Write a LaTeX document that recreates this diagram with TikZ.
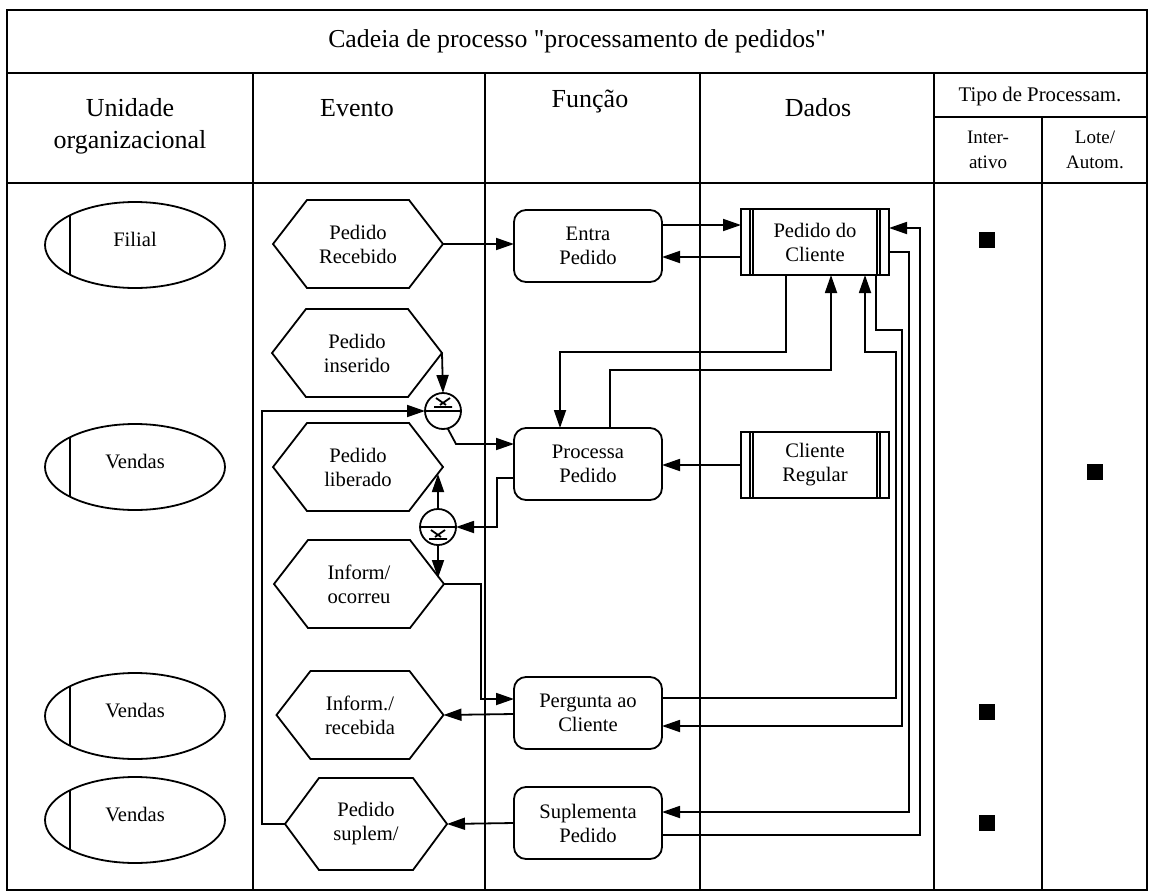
\documentclass[tikz,border=0pt]{standalone}
\usepackage{fontspec}
\setmainfont{Liberation Serif}
\newfontfamily\qfont{Liberation Serif}
\usetikzlibrary{arrows.meta,shapes.geometric}

\tikzset{
  txt/.style={font=\fontsize{20.6}{24}\selectfont, align=center},
  head/.style={font=\fontsize{26}{32}\selectfont, align=center},
  small/.style={font=\fontsize{19}{25}\selectfont, align=center},
  event/.style={txt, minimum width=170pt, minimum height=88pt, inner sep=0pt, outer sep=0pt},
  func/.style={txt, draw, rounded corners=12pt, minimum width=148pt, minimum height=72pt, inner sep=0pt, outer sep=0pt},
  data/.style={txt, draw, minimum width=148pt, minimum height=66pt, inner sep=0pt, outer sep=0pt},
  org/.style={txt, draw, ellipse, minimum width=180pt, minimum height=86pt, inner sep=0pt, outer sep=0pt, text depth=12pt},
  xor/.style={draw, circle, minimum size=36pt, inner sep=0pt, outer sep=0pt},
  sq/.style={fill, minimum width=16pt, minimum height=16pt, inner sep=0pt},
  arr/.style={-{Triangle[length=18pt,width=12pt]}}
}

\begin{document}
\begin{tikzpicture}
  [x=1pt,y=-1pt,line width=1.8pt]
\useasboundingbox (0,0) rectangle (1149,894);
% frame
\draw (7,10) rectangle (1147,890);
\draw (7,73) -- (1147,73);
\draw (934,117) -- (1147,117);
\draw (7,183) -- (1147,183);
\foreach \x in {253,485,700,934}
  \draw (\x,73) -- (\x,890);
\draw (1042,117) -- (1042,890);

% headers
\node (title)[head, font=\fontsize{25.8}{30}\selectfont] at (577,41) {Cadeia de processo {\qfont"}processamento de pedidos{\qfont"}};
\node (hunit)[head] at (130,126) {Unidade\\organizacional};
\node (hevt)[head] at (357,108) {Evento};
\node (hfun)[head] at (590,102) {Função};
\node (hdat)[head] at (818,108) {Dados};
\node (htipo)[txt, font=\fontsize{20.8}{24}\selectfont] at (1040,96) {Tipo de Processam.};
\node (hint)[small] at (988,150) {Inter-\\ativo};
\node (hlote)[small] at (1095,150) {Lote/\\Autom.};

% organisational units
\node (o1)[org] at (135,245) {Filial};
\node (o2)[org] at (135,467) {Vendas};
\node (o3)[org] at (135,716) {Vendas};
\node (o4)[org] at (135,820) {Vendas};
\foreach \n in {o1,o2,o3,o4}
  \draw (\n.center) ++(-65,-30) -- ++(0,60);

% events
\node (pr)[event] at (358,244) {Pedido\\Recebido};
\node (pi)[event] at (357,353) {Pedido\\inserido};
\node (pl)[event] at (358,467) {Pedido\\liberado};
\node (io)[event] at (359,584) {Inform/\\ocorreu};
\node (ir)[event, minimum width=167pt] at (360,715) {Inform./\\recebida};
\node (ps)[event, minimum width=162pt, minimum height=92pt] at (366,824) {Pedido\\suplem/};
\foreach \n in {pr,pi,pl,io,ir,ps}
  \draw (\n.west) -- ([xshift=34pt]\n.north west) -- ([xshift=-34pt]\n.north east)
    -- (\n.east) -- ([xshift=-34pt]\n.south east) -- ([xshift=34pt]\n.south west) -- cycle;

% connectors (XOR)
\node (x1)[xor] at (443,411) {};
\node (x2)[xor] at (438,527) {};
\draw (x1.west) -- (x1.east) (x2.west) -- (x2.east);
\draw (x1.center) ++(-7,-13) -- ++(10,7) (x1.center) ++(7,-13) -- ++(-10,7)
  (x1.center) ++(-9,-4) -- ++(18,0);
\draw (x2.center) ++(-7,3) -- ++(10,7) (x2.center) ++(7,3) -- ++(-10,7)
  (x2.center) ++(-9,12) -- ++(18,0);

% functions
\node (ep)[func] at (588,246) {Entra\\Pedido};
\node (proc)[func] at (588,464) {Processa\\Pedido};
\node (pg)[func] at (588,713) {Pergunta ao\\Cliente};
\node (sp)[func] at (588,823) {Suplementa\\Pedido};

% data
\node (pc)[data] at (815,242) {Pedido do\\Cliente};
\node (cr)[data] at (815,465) {Cliente\\Regular};
\foreach \n in {pc,cr}
  \foreach \o in {9,12} {
    \draw ([xshift=\o pt]\n.north west) -- ([xshift=\o pt]\n.south west);
    \draw ([xshift=-\o pt]\n.north east) -- ([xshift=-\o pt]\n.south east);
  }

% processing type
\node (s1)[sq] at (987,240) {};
\node (s2)[sq] at (1095,472) {};
\node (s3)[sq] at (987,712) {};
\node (s4)[sq] at (987,823) {};

% flow
\draw[arr] (pr.east) -- (pr.east -| ep.west);
\draw[arr] (ep.east |- 0,225) -- (pc.west |- 0,225);
\draw[arr] (pc.west |- 0,257) -- (ep.east |- 0,257);
\draw[arr] (pc.south -| 786,0) -- (786,352) -- (560,352) -- (proc.north -| 560,0);
\draw[arr] (proc.north -| 610,0) -- (610,370) -- (831,370) -- (pc.south -| 831,0);
\draw[arr] (pg.east |- 0,698) -- (896,698) -- (896,352) -- (865,352) -- (pc.south -| 865,0);
\draw[arr] (pc.south -| 876,0) -- (876,330) -- (902,330) -- (902,726) -- (pg.east |- 0,726);
\draw[arr] (pc.east |- 0,252) -- (909,252) -- (909,812) -- (sp.east |- 0,812);
\draw[arr] (sp.east |- 0,835) -- (920,835) -- (920,228) -- (pc.east |- 0,228);
\draw[arr] (cr.west) -- (cr.west -| proc.east);
\draw[arr] (pi.east) -- (x1.north);
\draw[arr] (x1.-75) -- (456,444) -- (proc.west |- 0,444);
\draw[arr] (ps.west) -- (262,824) -- (262,411) -- (x1.west);
\draw[arr] (proc.west |- 0,478) -- (497,478) -- (497,527) -- (x2.east);
\draw[arr] (x2.north) -- (438,474);
\draw[arr] (x2.south) -- (438,578);
\draw[arr] (io.east) -- (481,584) -- (481,699) -- (pg.west |- 0,699);
\draw[arr] (pg.west |- 0,714) -- (ir.east);
\draw[arr] (sp.west |- 0,823) -- (ps.east);
\end{tikzpicture}
\end{document}
